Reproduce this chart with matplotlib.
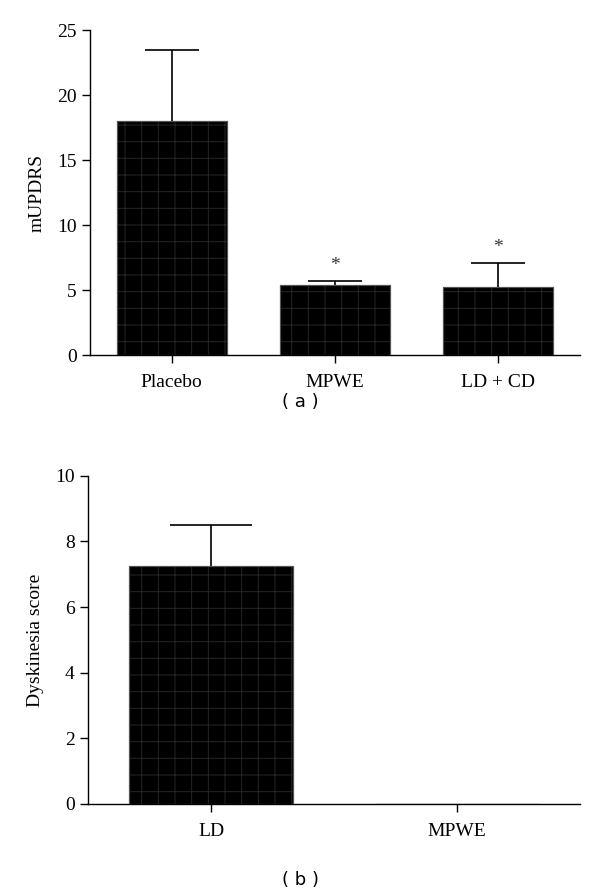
import matplotlib
matplotlib.use("Agg")
import matplotlib.pyplot as plt
import numpy as np

# Panel (a) data
cats_a = ["Placebo", "MPWE", "LD + CD"]
means_a = [18.0, 5.35, 5.25]
err_a = [5.5, 0.35, 1.85]
sig_a = ["", "*", "*"]
yticks_a = [0, 5, 10, 15, 20, 25]

# Panel (b) data
cats_b = ["LD", "MPWE"]
means_b = [7.25, 0.0]
err_b = [1.25, 0.0]
yticks_b = [0, 2, 4, 6, 8, 10]

serif = ["Liberation Serif", "DejaVu Serif"]
plt.rcParams["font.family"] = serif
plt.rcParams["hatch.linewidth"] = 0.7

fig = plt.figure(figsize=(6.0, 8.94), dpi=100)
ax1 = fig.add_axes([0.15, 0.6029, 0.8167, 0.3635])
ax2 = fig.add_axes([0.1467, 0.1007, 0.82, 0.367])


def draw(ax, cats, means, errs, yticks, width, capsize, ylabel, sigs=None):
    x = np.arange(len(cats))
    ax.bar(x, means, width=width, color="black", edgecolor="#262626",
           linewidth=0.8, hatch="+", zorder=2)
    ax.bar(x, means, width=width, color="none", edgecolor="#555555",
           linewidth=0.8, zorder=3)
    for xi, m, e in zip(x, means, errs):
        if e > 0:
            eb = ax.errorbar([xi], [m], yerr=[[0], [e]], fmt="none", ecolor="black",
                             elinewidth=1.2, capsize=capsize, capthick=1.2, zorder=1)
            caps = eb[1]
            if len(caps) > 1:
                caps[0].set_visible(False)
    if sigs:
        for xi, m, e, s in zip(x, means, errs, sigs):
            if s:
                ax.annotate(s, (xi, m + e), xytext=(0, 5), textcoords="offset points",
                            ha="center", va="bottom", fontsize=14, color="#333333")
    ax.set_xlim(-0.5, len(cats) - 0.5)
    ax.set_ylim(yticks[0], yticks[-1])
    ax.set_yticks(yticks)
    ax.set_xticks(x)
    ax.set_xticklabels(cats)
    ax.spines["top"].set_visible(False)
    ax.spines["right"].set_visible(False)
    for sp in ("left", "bottom"):
        ax.spines[sp].set_linewidth(1.0)
    ax.tick_params(axis="both", labelsize=14, width=1.0, length=6, direction="out")
    ax.tick_params(axis="x", pad=8)
    ax.set_ylabel(ylabel, fontsize=14, labelpad=8)


draw(ax1, cats_a, means_a, err_a, yticks_a, 0.675, 19.5, "mUPDRS", sig_a)
draw(ax2, cats_b, means_b, err_b, yticks_b, 0.667, 29.5, "Dyskinesia score")

fig.text(0.5, 1 - 402 / 894, "( a )", ha="center", va="center", fontsize=13,
         family=["DejaVu Sans"])
fig.text(0.5, 1 - 880 / 894, "( b )", ha="center", va="center", fontsize=13,
         family=["DejaVu Sans"])

fig.savefig("out.png", dpi=100)
